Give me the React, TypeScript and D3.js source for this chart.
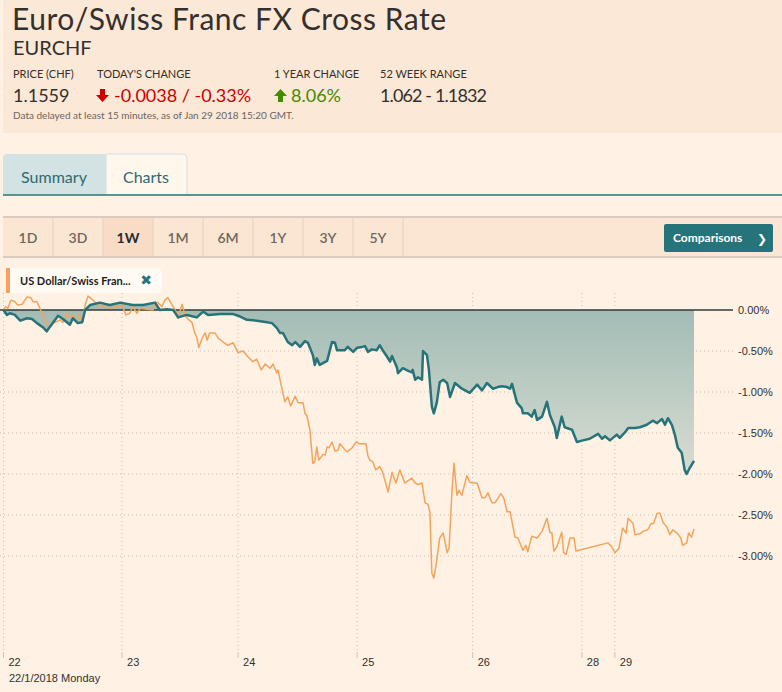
import React from 'react';
import * as d3 from 'd3';

// session hours since Mon 22 Jan 00:00 (weekend squeezed out), % change
const dayTicks = [0, 24.1, 47.7, 71.9, 95.4, 117.6, 124.3];
const dayLabels = ['22', '23', '24', '25', '26', '28', '29'];
const pctTicks = [0, -0.5, -1, -1.5, -2, -2.5, -3];
const ranges = ['1D', '3D', '1W', '1M', '6M', '1Y', '3Y', '5Y'];

const eurchf: [number, number][] = [
  [0, 0], [0.7, -0.06], [1.3, -0.04], [2.3, -0.06], [3.4, -0.13], [4.8, -0.1], [5.8, -0.11],
  [6.8, -0.16], [8.0, -0.21], [8.8, -0.26], [9.5, -0.2], [11.1, -0.07], [12.1, -0.11],
  [12.9, -0.15], [13.5, -0.18], [14.1, -0.1], [15.1, -0.16], [16.0, -0.15], [16.6, 0],
  [17.6, 0.06], [19.6, 0.09], [21.6, 0.06], [23.7, 0.09], [26.3, 0.06], [28.4, 0.06],
  [30.8, 0.09], [31.8, 0], [33.2, 0.01], [34.5, 0], [35.5, -0.09], [37.3, -0.06],
  [39.3, -0.09], [40.6, -0.02], [41.6, -0.06], [44.0, -0.05], [46.7, -0.05], [47.7, -0.07],
  [49.5, -0.12], [51.5, -0.13], [53.6, -0.15], [54.6, -0.16], [55.6, -0.22], [56.2, -0.28],
  [56.8, -0.28], [57.8, -0.39], [58.7, -0.43], [59.3, -0.39], [60.3, -0.45], [61.3, -0.38],
  [61.9, -0.4], [62.9, -0.55], [63.3, -0.67], [63.7, -0.59], [64.3, -0.67], [65.8, -0.62],
  [66.8, -0.39], [67.4, -0.4], [67.8, -0.49], [69.4, -0.49], [70.0, -0.45], [71.1, -0.51],
  [71.9, -0.46], [72.9, -0.45], [73.5, -0.44], [74.1, -0.51], [74.9, -0.48], [75.9, -0.49],
  [76.5, -0.43], [77.1, -0.49], [78.0, -0.57], [78.6, -0.63], [79.0, -0.56], [80.0, -0.7],
  [80.2, -0.77], [81.2, -0.71], [82.2, -0.74], [83.0, -0.76], [83.2, -0.73], [83.7, -0.85],
  [84.3, -0.82], [85.1, -0.85], [85.3, -0.5], [86.1, -0.55], [86.5, -0.73], [87.1, -1.18],
  [87.5, -1.26], [88.1, -1.13], [88.7, -0.88], [89.4, -0.85], [90.2, -0.89], [90.8, -1.06],
  [91.8, -0.89], [93.2, -0.96], [94.8, -1.01], [96.3, -0.91], [97.3, -0.98], [98.3, -0.89],
  [99.5, -0.96], [100.5, -0.94], [101.3, -0.93], [102.4, -0.94], [103.0, -0.96], [103.4, -0.9],
  [104.4, -1.13], [105.4, -1.2], [105.6, -1.26], [106.6, -1.26], [107.4, -1.3], [108.0, -1.22],
  [108.5, -1.34], [109.5, -1.3], [110.5, -1.12], [111.1, -1.28], [112.1, -1.43], [112.5, -1.56],
  [113.5, -1.3], [114.1, -1.43], [115.6, -1.46], [116.6, -1.61], [117.8, -1.59], [119.2, -1.57],
  [120.9, -1.51], [121.7, -1.57], [122.3, -1.54], [123.3, -1.59], [124.7, -1.52], [125.3, -1.56],
  [126.4, -1.49], [127.0, -1.44], [128.4, -1.44], [129.4, -1.43], [130.8, -1.4], [132.0, -1.35],
  [132.9, -1.38], [133.9, -1.33], [134.5, -1.4], [135.1, -1.32], [135.9, -1.4], [136.5, -1.52],
  [137.1, -1.68], [137.9, -1.74], [138.5, -1.95], [138.9, -2.0], [139.5, -1.93], [140.4, -1.84],
];

const usdchf: [number, number][] = [
  [0, 0.01], [0.5, 0.04], [0.9, 0.02], [1.5, 0.12], [2.3, 0.1], [2.9, 0.06], [3.8, 0.07],
  [4.8, 0.16], [5.6, 0.15], [6.0, 0.1], [6.8, 0.1], [7.4, 0.02], [8.0, -0.06], [8.8, -0.16],
  [9.0, -0.21], [9.9, -0.16], [10.5, -0.15], [11.5, -0.12], [12.1, -0.15], [12.9, -0.04],
  [13.5, -0.09], [14.1, -0.06], [14.9, -0.15], [15.3, -0.05], [16.0, -0.15], [16.6, 0.06],
  [17.2, 0.17], [18.2, 0.12], [19.2, 0.06], [20.2, 0.05], [21.6, 0.02], [22.7, 0.04],
  [24.1, 0.06], [24.9, -0.06], [25.7, -0.04], [26.3, 0.05], [27.1, -0.04], [27.8, 0.02],
  [29.2, 0.01], [30.4, 0], [30.8, 0.09], [31.4, 0.09], [32.2, 0.04], [32.8, 0.12], [33.4, 0.15],
  [34.3, 0.06], [34.9, 0], [35.5, -0.1], [36.3, 0.07], [36.9, -0.06], [37.5, -0.11],
  [38.3, -0.15], [38.9, -0.28], [39.3, -0.33], [39.7, -0.46], [40.4, -0.34], [41.0, -0.28],
  [41.4, -0.37], [41.9, -0.28], [43.0, -0.28], [43.6, -0.34], [44.6, -0.39], [45.6, -0.43],
  [46.7, -0.4], [47.7, -0.52], [48.7, -0.5], [49.7, -0.57], [50.7, -0.63], [51.5, -0.6],
  [52.4, -0.73], [53.2, -0.66], [54.2, -0.71], [54.8, -0.66], [55.6, -0.77], [55.8, -0.73],
  [57.2, -1.12], [57.8, -1.06], [58.4, -1.17], [59.3, -1.05], [59.9, -1.13], [60.9, -1.13],
  [61.3, -1.26], [61.7, -1.29], [62.3, -1.46], [62.9, -1.87], [63.3, -1.85], [63.7, -1.67],
  [64.1, -1.83], [65.0, -1.76], [65.4, -1.77], [65.8, -1.67], [66.2, -1.68], [66.8, -1.61],
  [67.4, -1.72], [68.0, -1.71], [68.4, -1.63], [69.8, -1.73], [70.9, -1.68], [71.7, -1.61],
  [72.3, -1.63], [73.7, -1.63], [74.1, -1.78], [74.5, -1.83], [75.1, -1.85], [75.7, -1.95],
  [76.5, -1.91], [77.1, -1.98], [78.2, -2.22], [79.0, -1.98], [79.8, -2.11], [80.6, -1.95],
  [81.6, -2.11], [83.0, -2.05], [83.7, -2.11], [84.3, -2.13], [85.1, -2.11], [85.7, -2.35],
  [86.3, -2.37], [86.7, -2.46], [87.1, -3.21], [87.5, -3.27], [88.1, -3.05], [88.7, -2.78],
  [89.4, -2.72], [90.2, -2.96], [90.6, -2.9], [91.2, -2.2], [91.6, -1.87], [92.2, -2.26],
  [92.6, -2.2], [93.2, -2.26], [94.2, -2.02], [94.8, -2.1], [95.4, -2.11], [96.3, -2.11],
  [97.3, -2.29], [97.9, -2.29], [98.5, -2.23], [99.3, -2.35], [99.9, -2.35], [100.5, -2.3],
  [101.1, -2.24], [101.7, -2.29], [102.4, -2.46], [103.0, -2.46], [104.0, -2.77], [104.6, -2.78],
  [105.6, -2.93], [106.2, -2.87], [106.6, -2.95], [107.4, -2.76], [108.5, -2.78], [109.5, -2.7],
  [110.5, -2.54], [111.1, -2.71], [111.5, -2.72], [111.9, -2.94], [112.5, -2.89], [113.5, -2.71],
  [113.9, -2.96], [114.4, -2.98], [115.2, -2.78], [116.0, -2.78], [116.4, -2.94], [122.9, -2.84],
  [123.7, -2.89], [124.3, -2.96], [125.1, -2.91], [125.9, -2.66], [126.6, -2.72], [127.0, -2.54],
  [128.0, -2.6], [128.4, -2.74], [129.4, -2.73], [130.0, -2.7], [131.0, -2.68], [131.6, -2.61],
  [132.2, -2.6], [132.9, -2.48], [133.5, -2.48], [134.1, -2.59], [134.9, -2.65], [135.5, -2.74],
  [136.1, -2.68], [137.1, -2.73], [137.7, -2.78], [138.1, -2.87], [138.9, -2.84], [139.3, -2.72],
  [139.9, -2.77], [140.4, -2.67],
];

const TEAL = '#26747a';
const ORANGE = '#f3a45a';
const INK = '#33302e';
const SANS = 'Lato, "Open Sans", sans-serif';
const ARIAL = '"Liberation Sans", Arial, sans-serif';

export default function App() {
  const W = 782;
  const H = 692;
  const x = d3.scaleLinear().domain([0, 140.4]).range([3.5, 694]);
  const y = d3.scaleLinear().domain([0, -3]).range([310, 556]);
  const band = d3.scaleBand().domain(ranges).range([3, 403]);

  const line = d3.line<[number, number]>().x(d => x(d[0])).y(d => y(d[1]));
  const area = d3.area<[number, number]>().x(d => x(d[0])).y0(y(0)).y1(d => y(d[1]));

  const gridRight = 733;

  return (
    <div style={{ position: 'absolute', left: 0, top: 0, width: W, height: H, background: '#fff1e3' }}>
      <svg width={W} height={H} style={{ display: 'block' }}>
        <defs>
          <linearGradient id="fill" gradientUnits="userSpaceOnUse" x1="0" y1={y(0)} x2="0" y2={y(-2)}>
            <stop offset="0" stopColor="#a2bcb5" />
            <stop offset="1" stopColor="#d9ddd2" />
          </linearGradient>
        </defs>
        <rect width={W} height={H} fill="#fff1e3" />

        {/* header banner */}
        <rect x={3} y={0} width={W - 3} height={133} fill="#fce8d6" />
        <text x={12} y={30} fontFamily={SANS} fontSize={30} fill={INK} textLength={434} lengthAdjust="spacing">Euro/Swiss Franc FX Cross Rate</text>
        <text x={13} y={55} fontFamily={SANS} fontSize={20} fill={INK}>EURCHF</text>
        <g fontFamily={SANS} fontSize={11} fill={INK}>
          <text x={13} y={78}>PRICE (CHF)</text>
          <text x={97} y={78}>TODAY'S CHANGE</text>
          <text x={274} y={78}>1 YEAR CHANGE</text>
          <text x={380} y={78}>52 WEEK RANGE</text>
        </g>
        <g fontFamily={SANS} fontSize={18}>
          <text x={13} y={102} fill={INK}>1.1559</text>
          <path d="M100,89h5v6h4l-6.5,7l-6.5,-7h4z" fill="#cc0000" />
          <text x={114} y={102} fill="#cc0000">-0.0038 / -0.33%</text>
          <path d="M278,102h5v-6h4l-6.5,-7l-6.5,7h4z" fill="#458b00" />
          <text x={291} y={102} fill="#458b00">8.06%</text>
          <text x={380} y={102} fill={INK} textLength={107} lengthAdjust="spacing">1.062 - 1.1832</text>
        </g>
        <text x={13} y={119} fontFamily={SANS} fontSize={10} fill="#6b6560">
          Data delayed at least 15 minutes, as of Jan 29 2018 15:20 GMT.
        </text>

        {/* tabs */}
        <path d="M3,195V158a4,4 0 0 1 4,-4H106V195z" fill="#d3e2e2" />
        <path d="M106,195V154H183a4,4 0 0 1 4,4V195" fill="#fff6ec" stroke="#d2e0e0" />
        <text x={54} y={183} textAnchor="middle" fontFamily={SANS} fontSize={16} fill="#2e6a73">Summary</text>
        <text x={146} y={183} textAnchor="middle" fontFamily={SANS} fontSize={16} fill="#2e6a73">Charts</text>
        <line x1={3} x2={W} y1={195} y2={195} stroke={TEAL} strokeWidth={1.5} />

        {/* range buttons */}
        <rect x={3} y={217} width={W - 3} height={40} fill="#fbe6d4" />
        <rect x={band('1W')} y={217} width={band.bandwidth()} height={40} fill="#f8dcc6" />
        <line x1={3} x2={W} y1={217} y2={217} stroke="#dccbbc" strokeWidth={2} />
        <line x1={3} x2={W} y1={257} y2={257} stroke="#dccbbc" strokeWidth={2} />
        {ranges.map(r => (
          <g key={r}>
            <line x1={(band(r) as number) + band.bandwidth()} x2={(band(r) as number) + band.bandwidth()} y1={218} y2={256} stroke="#e3d0c0" />
            <text x={(band(r) as number) + band.bandwidth() / 2} y={243} textAnchor="middle" fontFamily={SANS}
              fontSize={14} fontWeight={r === '1W' ? 700 : 600} fill={r === '1W' ? '#262a33' : '#6e6660'}>{r}</text>
          </g>
        ))}
        <rect x={664} y={224} width={109} height={28} rx={2} fill={TEAL} />
        <text x={673} y={242} fontFamily={SANS} fontSize={12} fontWeight={700} fill="#fff">Comparisons</text>
        <text x={757} y={243} fontFamily="DejaVu Sans" fontSize={12} fontWeight={700} fill="#fff">❯</text>

        {/* grid */}
        {dayTicks.map(t => (
          <g key={t}>
            <line x1={x(t)} x2={x(t)} y1={293} y2={652} stroke="#c9bdb1" strokeDasharray="1,3" />
            <line x1={x(t)} x2={x(t)} y1={652} y2={658} stroke="#cfc4b9" />
          </g>
        ))}
        {pctTicks.filter(v => v !== 0).map(v => (
          <line key={v} x1={0} x2={gridRight} y1={y(v)} y2={y(v)} stroke="#c9bdb1" strokeDasharray="1,3" />
        ))}

        {/* series */}
        <path d={area(eurchf) || ''} fill="url(#fill)" />
        <line x1={0} x2={gridRight} y1={y(0)} y2={y(0)} stroke="#2f3b3b" strokeWidth={1.5} />
        <path d={line(usdchf) || ''} fill="none" stroke={ORANGE} strokeWidth={1.5} strokeLinejoin="round" />
        <path d={line(eurchf) || ''} fill="none" stroke={TEAL} strokeWidth={2.5} strokeLinejoin="round" />

        {/* axes labels */}
        {pctTicks.map(v => (
          <text key={v} x={738} y={y(v) + 4} fontFamily={ARIAL} fontSize={11} fill={INK}>{`${v.toFixed(2)}%`}</text>
        ))}
        {dayTicks.map((t, i) => (
          <text key={t} x={x(t) + 5} y={666} fontFamily={ARIAL} fontSize={11} fill={INK}>{dayLabels[i]}</text>
        ))}
        <text x={9} y={682} fontFamily={ARIAL} fontSize={11} fill={INK}>22/1/2018 Monday</text>

        {/* legend */}
        <rect x={6} y={268} width={156} height={25} fill="#fffaf4" />
        <rect x={6} y={268} width={4} height={25} fill={ORANGE} />
        <text x={20} y={285} fontFamily={SANS} fontSize={11} fontWeight={700} fill="#1c1c1c">US Dollar/Swiss Fran...</text>
        <text x={146} y={285} textAnchor="middle" fontFamily="DejaVu Sans" fontSize={14} fontWeight={700} fill={TEAL}>✖</text>
      </svg>
    </div>
  );
}
